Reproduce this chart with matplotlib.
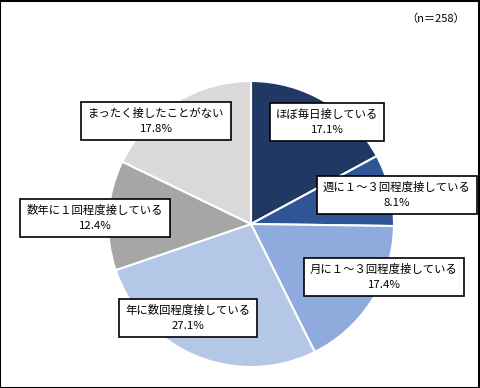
import matplotlib.pyplot as plt
from matplotlib.patches import Rectangle

plt.rcParams['font.family'] = ['Noto Sans CJK JP', 'DejaVu Sans']

labels = ['ほぼ毎日接している', '週に１～３回程度接している', '月に１～３回程度接している',
          '年に数回程度接している', '数年に１回程度接している', 'まったく接したことがない']
values = [17.1, 8.1, 17.4, 27.1, 12.4, 17.8]
colors = ['#1F3864', '#2F5597', '#8FAADC', '#B4C7E7', '#A6A6A6', '#D9D9D9']
# label box centres in pixels (x from left, y from top)
label_px = [(327, 122), (397, 195), (384, 277), (188, 318), (95, 218), (156, 121)]

W, H = 480, 388
fig = plt.figure(figsize=(W / 100, H / 100), dpi=100)

cx, cy, r = 251, 224, 143
ax = fig.add_axes([(cx - r) / W, (H - cy - r) / H, 2 * r / W, 2 * r / H])
ax.pie(values, colors=colors, startangle=90, counterclock=False,
       wedgeprops=dict(edgecolor='white', linewidth=1.5))
ax.set_xlim(-1, 1)
ax.set_ylim(-1, 1)
ax.set_aspect('auto')

for lab, v, (px, py) in zip(labels, values, label_px):
    fig.text(px / W, 1 - py / H, f'{lab}\n{v:.1f}%', ha='center', va='center',
             fontsize=8.2, linespacing=1.6,
             bbox=dict(boxstyle='square,pad=0.55', facecolor='white', edgecolor='black', linewidth=1.2))

fig.text(436 / W, 1 - 19 / H, '（n＝258）', ha='center', va='center', fontsize=8)

fig.patches.append(Rectangle((0.001, 0.001), 0.997, 0.997, transform=fig.transFigure,
                             fill=False, edgecolor='black', linewidth=1.5))

fig.savefig('out.png', dpi=100)
